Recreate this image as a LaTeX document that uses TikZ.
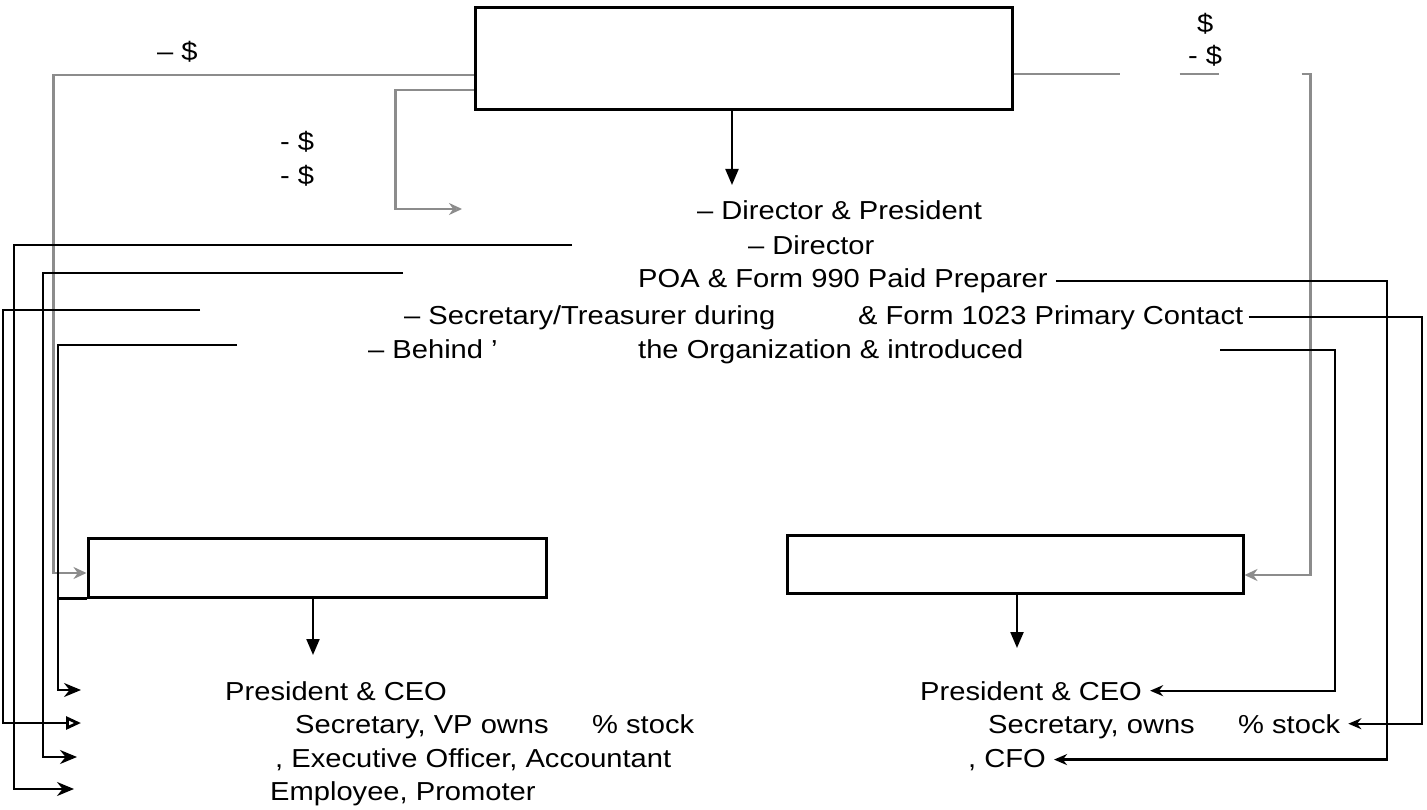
\documentclass[tikz,border=0pt]{standalone}
\usepackage{fontspec}
\setmainfont{Liberation Sans}[FakeStretch=1.12]
\usetikzlibrary{arrows.meta}

\begin{document}
\begin{tikzpicture}%
	[
	x={(1pt, 0pt)},
	y={(0pt, -1pt)},
	box/.style={draw=black, line width=3pt, inner sep=0pt, fill=white},
	words/.style={inner sep=0pt, anchor=base west, font=\fontsize{26}{31}\selectfont},
	conn/.style={color=black, line width=2.2pt},
	fund/.style={color=black!45, line width=2.2pt},
	droparrow/.style={conn, -{Triangle[length=16pt,width=13pt]}},
	tolist/.style={conn, -{Stealth[length=17pt,width=14pt]}},
	fromlist/.style={conn, -{Stealth[length=13pt,width=11pt]}},
	fundarrow/.style={fund, -{Stealth[open,length=13pt,width=12pt]}}]

\useasboundingbox (0,0) rectangle (1427,810);

\node[box, minimum width=537pt, minimum height=102pt] (org) at (743.5,59) {};
\node[box, minimum width=458pt, minimum height=59pt] (lbox) at (317,567.5) {};
\node[box, minimum width=456pt, minimum height=58pt] (rbox) at (1015,564) {};

\node[words] (dollarA) at (157,61) {– \$};
\node[words] (dollarB) at (280,151) {- \$};
\node[words] (dollarC) at (280,185) {- \$};
\node[words] (dollarD) at (1197,33) {\$};
\node[words] (dollarE) at (1188,65) {- \$};

\node[words] (pres) at (697,220) {– Director \& President};
\node[words] (dir) at (748,255) {– Director};
\node[words] (prep) at (638,288) {POA \& Form 990 Paid Preparer};
\node[words] (sect) at (404,324) {– Secretary/Treasurer during};
\node[words] (contact) at (858,324) {\& Form 1023 Primary Contact};
\node[words] (behind) at (368,359) {– Behind '};
\node[words] (intro) at (638,359) {the Organization \& introduced};

\node[words] (ceoL) at (225,700) {President \& CEO};
\node[words] (secL) at (295,733) {Secretary, VP owns};
\node[words] (stockL) at (592,733) {\% stock};
\node[words] (execL) at (275,767) {, Executive Officer, Accountant};
\node[words] (empL) at (270,800) {Employee, Promoter};

\node[words] (ceoR) at (920,700) {President \& CEO};
\node[words] (secR) at (988,733) {Secretary, owns};
\node[words] (stockR) at (1238,733) {\% stock};
\node[words] (cfoR) at (968,767) {, CFO};

\coordinate (orgdrop) at (732,185);
\coordinate (lboxdrop) at (313,655);
\coordinate (rboxdrop) at (1017,648);
\coordinate (fundtip) at (462,209);

\coordinate (srcA) at (572,245);
\coordinate (srcB) at (403,273);
\coordinate (srcC) at (200,310);
\coordinate (srcD) at (237,345);
\coordinate (srcE) at (1220,350);
\coordinate (tipA) at (74,789);
\coordinate (tipB) at (77,757);
\coordinate (tipC) at (81,723);
\coordinate (tipD) at (81,690);
\coordinate (colB) at (1387,0);
\coordinate (colC) at (1422,0);
\coordinate (colE) at (1335,0);

\draw[droparrow] (org.south -| orgdrop) -- (orgdrop);
\draw[droparrow] (lbox.south -| lboxdrop) -- (lboxdrop);
\draw[droparrow] (rbox.south -| rboxdrop) -- (rboxdrop);

\draw[fundarrow] ([yshift=-16pt]org.west) -- ++(-420,0) |- ([yshift=-5.5pt]lbox.west);
\draw[fundarrow] ([yshift=-31pt]org.west) -- ++(-78,0) |- (fundtip);
\draw[fundarrow, dash pattern=on 106pt off 60pt on 39pt off 83pt on 2000pt] ([yshift=-15pt]org.east) -- ++(297,0) |- ([yshift=-11pt]rbox.east);

\draw[tolist] (srcA) -- ++(-558,0) |- (tipA);
\draw[tolist] (srcB) -- ++(-360,0) |- (tipB);
\draw[conn, line width=2.8pt, -{Triangle[open,length=15pt,width=13pt]}] (srcC) -- ++(-197,0) |- (tipC);
\draw[tolist] (srcD) -- ++(-179,0) |- (tipD);
\draw[conn] (lbox.south west) -- ++(-30,0);

\draw[fromlist] ([xshift=8pt]prep.east) -| (colB |- cfoR.east) -- ([xshift=8pt]cfoR.east);
\draw[fromlist] ([xshift=5pt]contact.east) -| (colC |- stockR.east) -- ([xshift=8pt]stockR.east);
\draw[fromlist] (srcE) -| (colE |- ceoR.east) -- ([xshift=8pt]ceoR.east);
\end{tikzpicture}
\end{document}
